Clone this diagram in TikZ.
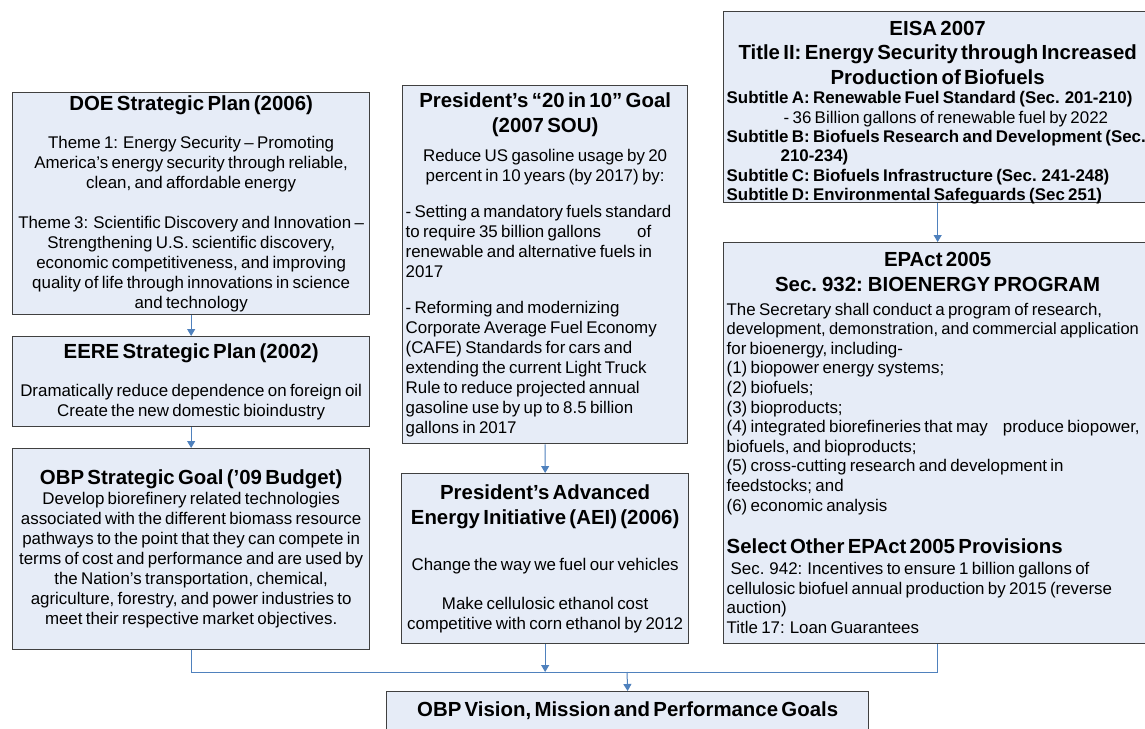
\documentclass[tikz,border=0pt]{standalone}
\usepackage{fontspec}
\setmainfont{Liberation Sans}
\usepackage{tikz}
\usetikzlibrary{arrows.meta}
\definecolor{boxfill}{RGB}{230,236,247}
\definecolor{boxline}{RGB}{64,64,64}
\definecolor{linkblue}{RGB}{79,129,189}
\newcommand{\hd}{\bfseries\fontsize{20.4}{24.5}\selectfont}
\newcommand{\bd}{\fontsize{16.9}{20}\selectfont}

\begin{document}
\begin{tikzpicture}[x=10pt,y=10pt,
    box/.style={draw=boxline, fill=boxfill, line width=1.3pt, anchor=north west, inner xsep=3pt, inner ysep=0pt},
    link/.style={draw=linkblue, line width=1pt},
    tip/.style={link, -{Triangle[width=8pt,length=7pt]}}]
            \useasboundingbox (0,0) rectangle (114.5,-72.8);
            \clip (0,0) rectangle (114.5,-72.8);
            \fill [white] (0,0) rectangle (114.5,-72.8);
            \node [box, text width=351pt, minimum height=222pt, align=center] (doe) at (1.2,-9.2) {{\hd DOE Strategic Plan (2006)\par}\vspace{18pt}\bd Theme 1: Energy Security – Promoting\\America’s energy security through reliable,\\clean, and affordable energy\par\vspace{20pt}Theme 3: Scientific Discovery and Innovation –\\Strengthening U.S. scientific discovery,\\economic competitiveness, and improving\\quality of life through innovations in science\\and technology\par};
            \node [box, text width=351pt, minimum height=90pt, align=center] (eere) at (1.2,-33.6) {{\hd EERE Strategic Plan (2002)\par}\vspace{18pt}\bd Dramatically reduce dependence on foreign oil\\Create the new domestic bioindustry\par};
            \node [box, text width=351pt, minimum height=201pt, align=center] (obp) at (1.2,-44.8) {{\hd OBP Strategic Goal (’09 Budget)\par}\bd Develop biorefinery related technologies\\associated with the different biomass resource\\pathways to the point that they can compete in\\terms of cost and performance and are used by\\the Nation's transportation, chemical,\\agriculture, forestry, and power industries to\\meet their respective market objectives.\par};
            \node [box, text width=279pt, minimum height=358pt, align=left] (goal) at (40.2,-8.5) {{\centering\hd President’s “20 in 10” Goal\\(2007 SOU)\par}\vspace{9pt}{\centering\bd Reduce US gasoline usage by 20\\percent in 10 years (by 2017) by:\par}\vspace{16pt}\bd - Setting a mandatory fuels standard\\to require 35 billion gallons\hspace{36pt}of\\renewable and alternative fuels in\\2017\par\vspace{16pt}- Reforming and modernizing\\Corporate Average Fuel Economy\\(CAFE) Standards for cars and\\extending the current Light Truck\\Rule to reduce projected annual\\gasoline use by up to 8.5 billion\\gallons in 2017\par};
            \node [box, text width=281pt, minimum height=170pt, align=center] (aei) at (40.1,-47.3) {{\hd President’s Advanced\\Energy Initiative (AEI) (2006)\par}\vspace{26pt}\bd Change the way we fuel our vehicles\par\vspace{19pt}Make cellulosic ethanol cost\\competitive with corn ethanol by 2012\par};
            \node [box, text width=422pt, minimum height=191pt, text depth=158pt, align=left] (eisa) at (72.3,-1.1) {{\centering\hd EISA 2007\\Title II: Energy Security through Increased\\Production of Biofuels\par}\fontsize{16.9}{19.4}\selectfont\bfseries Subtitle A: Renewable Fuel Standard (Sec. 201-210)\\\mdseries\hspace*{57pt}- 36 Billion gallons of renewable fuel by 2022\\\bfseries\mbox{Subtitle B: Biofuels Research and Development (Sec.}\\\hspace*{54pt}210-234)\\Subtitle C: Biofuels Infrastructure (Sec. 241-248)\\Subtitle D: Environmental Safeguards (Sec 251)\par};
            \node [box, text width=422pt, minimum height=401pt, align=left] (epact) at (72.3,-24.2) {{\centering\hd EPAct 2005\\Sec. 932: BIOENERGY PROGRAM\par}\vspace{4pt}\fontsize{16.9}{19.6}\selectfont The Secretary shall conduct a program of research,\\\mbox{\fontsize{16.5}{19.6}\selectfont development, demonstration, and commercial application}\\for bioenergy, including-\\(1) biopower energy systems;\\(2) biofuels;\\(3) bioproducts;\\\mbox{(4) integrated biorefineries that may\hspace{15pt}produce biopower,}\\biofuels, and bioproducts;\\(5) cross-cutting research and development in\\feedstocks; and\\(6) economic analysis\par\vspace{18pt}{\hd Select Other EPAct 2005 Provisions\par}\vspace{1.5pt}\fontsize{16.9}{19.6}\selectfont\hspace*{4pt}Sec. 942: Incentives to ensure 1 billion gallons of\\cellulosic biofuel annual production by 2015 (reverse\\auction)\\Title 17: Loan Guarantees\par};
            \node [box, text width=476pt, text height=25pt, text depth=40pt, align=center] (vision) at (38.6,-69.1) {\hd OBP Vision, Mission and Performance Goals};
            \draw [tip] (doe.south) -- (eere.north);
            \draw [tip] (eere.south) -- (obp.north);
            \draw [tip] (goal.south) -- (aei.north);
            \draw [tip] (eisa.south) -- (epact.north);
            \coordinate (join) at (62.7,-67.2);
            \draw [link] (obp.south) |- (join);
            \draw [link] (epact.south) |- (join);
            \draw [tip] (aei.south) -- (aei.south |- join);
            \draw [tip] (join) -- (vision.north);
\end{tikzpicture}
\end{document}
